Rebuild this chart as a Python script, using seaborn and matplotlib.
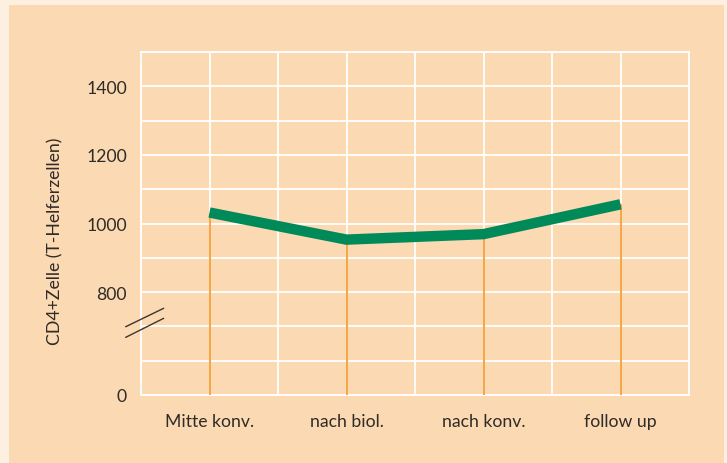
import numpy as np
import pandas as pd
import matplotlib
matplotlib.use("Agg")
import matplotlib.pyplot as plt
from matplotlib.patches import Rectangle
import seaborn as sns

# ---- data ----
categories = ["Mitte konv.", "nach biol.", "nach konv.", "follow up"]
cd4_values = [1032, 953, 969, 1056]
ytick_values = [0, 800, 1000, 1200, 1400]
ytick_labels = ["0", "800", "1000", "1200", "1400"]
ygrid_minor = [800 / 3, 1600 / 3, 900, 1100, 1300, 1500]
ylabel = "CD4+Zelle (T-Helferzellen)"

# ---- colours ----
OUTER = "#FDF0E1"
PANEL = "#FBD9B2"
GREEN = "#008A5A"
ORANGE = "#F5A545"
TEXT = "#2E2B28"

sns.set_theme(style="white")
FONT = ["Lato", "DejaVu Sans"]
plt.rcParams["font.family"] = FONT
FS = 12.7

fig = plt.figure(figsize=(7.27, 4.64), dpi=100, facecolor=OUTER)
fig.patches.append(Rectangle((9 / 727, 0), (724 - 9) / 727, (464 - 6) / 464,
                             transform=fig.transFigure, facecolor=PANEL,
                             edgecolor="none", zorder=-10))
ax = fig.add_axes([141 / 727, (464 - 396) / 464, (689 - 141) / 727, (396 - 53) / 464])
ax.set_zorder(1)
ax.set_facecolor(PANEL)


# broken y axis: 0..800 compressed into three grid steps
def fwd(v):
    v = np.asarray(v, dtype=float)
    return np.where(v >= 800, 3 + (v - 800) / 100.0, v * 3 / 800.0)


def inv(p):
    p = np.asarray(p, dtype=float)
    return np.where(p >= 3, 800 + (p - 3) * 100.0, p * 800 / 3.0)


ax.set_yscale("function", functions=(fwd, inv))

df = pd.DataFrame({"Zeitpunkt": categories, "CD4": cd4_values})

pos = np.arange(len(categories))
ax.vlines(pos, 0, df["CD4"], color=ORANGE, linewidth=1.4, zorder=3)
sns.lineplot(data=df, x=pos, y="CD4", sort=False, color=GREEN, linewidth=7.5,
             solid_capstyle="butt", solid_joinstyle="miter", ax=ax, zorder=4)

ax.set_xlim(-0.5, len(categories) - 0.5)
ax.set_ylim(0, 1500)

ax.set_xticks(pos)
ax.set_xticklabels(categories)
ax.set_xticks(np.arange(-0.5, len(categories), 1.0), minor=True)
ax.set_yticks(ytick_values)
ax.set_yticklabels(ytick_labels)
ax.set_yticks(ygrid_minor, minor=True)

ax.grid(True, which="both", color="white", linewidth=1.3)
ax.set_axisbelow(True)
for s in ax.spines.values():
    s.set_color("white")
    s.set_linewidth(1.3)

ax.tick_params(axis="both", which="both", length=0, labelsize=FS, labelcolor=TEXT)
ax.tick_params(axis="y", pad=10)
ax.tick_params(axis="x", pad=13)

ax.set_xlabel("")
ax.set_ylabel(ylabel, fontsize=FS, color=TEXT)
ax.yaxis.set_label_coords(-0.142, 0.452)

# axis-break marks
for y0, y1 in [(0.199, 0.2528), (0.168, 0.2236)]:
    ax.plot([-0.028, 0.0414], [y0, y1], transform=ax.transAxes, color="#3A3632",
            linewidth=1.0, clip_on=False, zorder=5)

fig.savefig("out.png", dpi=100, facecolor=OUTER)
